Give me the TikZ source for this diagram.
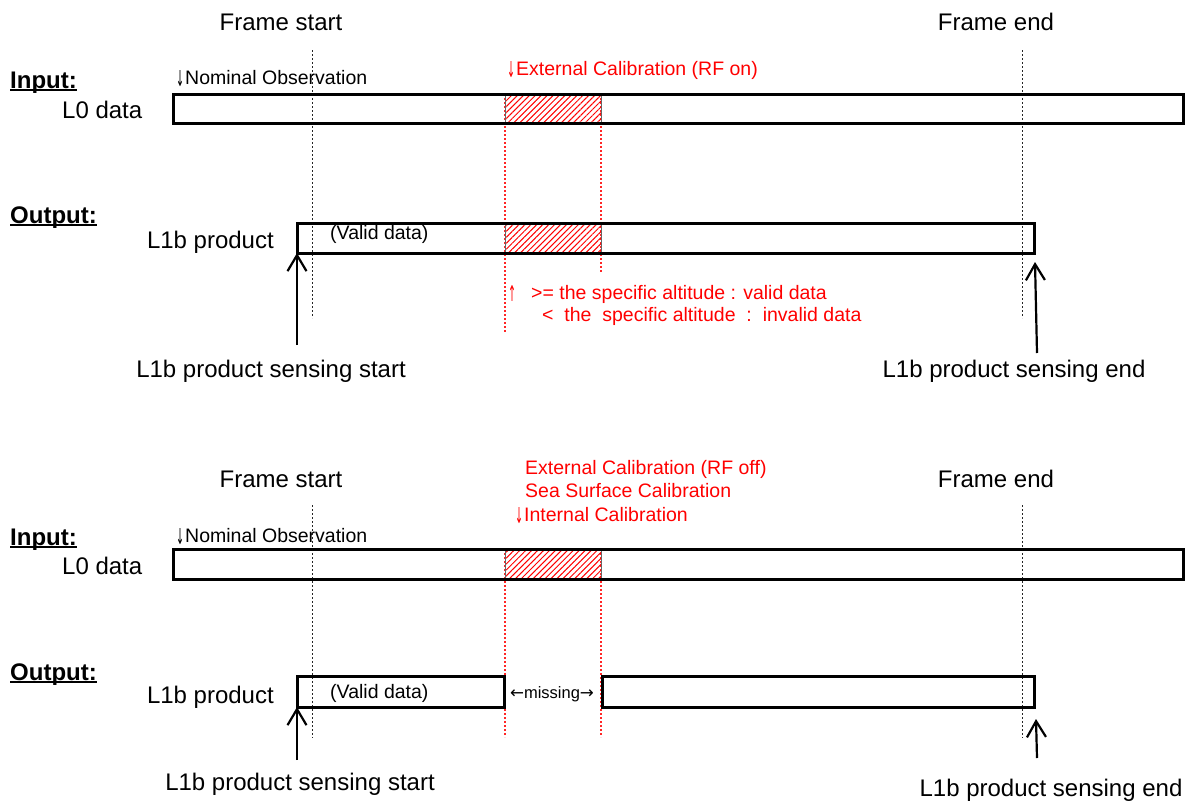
\documentclass[tikz,border=0pt]{standalone}
\usepackage{fontspec}
\setmainfont{Liberation Sans}
\newfontfamily\arrowfont{DejaVu Sans}
\usetikzlibrary{arrows.meta,patterns.meta}

% bold heading with a heavy underline
\newcommand{\ulhead}[1]{\setbox0\hbox{\bfseries #1}\rlap{\rule[-3pt]{\wd0}{2pt}}\box0}
% narrow, tall arrow glyphs
\newcommand{\dnarrow}{\raisebox{-2.5pt}{\resizebox{8pt}{16pt}{\arrowfont ↓}}\hspace{1pt}}
\newcommand{\uparr}{\raisebox{-2.5pt}{\resizebox{8pt}{16pt}{\arrowfont ↑}}}
\newcommand{\lfarr}{\resizebox{14pt}{!}{\arrowfont ←}}
\newcommand{\rtarr}{\resizebox{14pt}{!}{\arrowfont →}}

\begin{document}
\begin{tikzpicture}[x=1pt,y=-1pt,
  big/.style={inner sep=0pt,font=\fontsize{24}{28}\selectfont},
  sml/.style={inner sep=0pt,font=\fontsize{19.5}{23}\selectfont},
  tiny/.style={inner sep=0pt,font=\fontsize{16.5}{19}\selectfont},
  redtxt/.style={sml,text=red,anchor=base west},
  databox/.style={draw=black,line width=3pt,inner sep=0pt,outer sep=0pt},
  hatch/.style={pattern={Lines[angle=45,distance=4.2pt,line width=1pt]},pattern color=red},
  hatchedge/.style={line width=0.8pt,draw=black!60},
  guide/.style={line width=1pt,draw=black!85,dash pattern=on 2pt off 2pt},
  redguide/.style={line width=1.05pt,draw=red!85,dash pattern=on 2pt off 2pt},
  uparrow/.style={line width=2.2pt,-{Straight Barb[length=16pt,width=19pt,line width=2.2pt]}}
]
\useasboundingbox (0,0) rectangle (1204,803);

%================ upper case: RF on ================
% time guides
\draw[guide] (312,50) -- (312,318);
\draw[guide] (1022,50) -- (1022,318);
\draw[redguide] (505,94) -- (505,332);
\draw[redguide] (601,94) -- (601,272);

\node[big,anchor=base] (fs1) at (281,30) {Frame start};
\node[big,anchor=base] (fe1) at (996,30) {Frame end};

\node[big,anchor=base west] (in1) at (10,88) {\ulhead{Input:}};
\node[big,anchor=base west] (l0t1) at (62,118) {L0 data};
\node[sml,anchor=base west] (no1) at (176,84) {\dnarrow Nominal Observation};
\node[redtxt] (ec1) at (507,75) {\dnarrow External Calibration (RF on)};

% L0 data stream
\fill[hatch] (505,94) rectangle (601,123.5);
\draw[hatchedge] (505,94) -- (505,123.5) (601,94) -- (601,123.5);
\node[databox,minimum width=1010pt,minimum height=29.5pt] (l0a) at (678,108.75) {};

\node[big,anchor=base west] (out1) at (10,223) {\ulhead{Output:}};
\node[big,anchor=base east] (l1t1) at (274,248) {L1b product};

% L1b product stream
\fill[hatch] (505,223) rectangle (601,253);
\draw[hatchedge] (505,223) -- (505,253) (601,223) -- (601,253);
\node[databox,minimum width=737pt,minimum height=30pt] (l1a) at (665.5,238) {};
\node[sml,anchor=base west] (vd1) at (330,239) {(Valid data)};

\node[redtxt] (alt1) at (508,299) {\uparr\hspace{15pt}>= the specific altitude : valid data};
\node[redtxt] (alt2) at (542,321) {<\ \ the\ \ specific altitude\ \ :\ \ invalid data};

\coordinate (sb1) at (297,345);
\coordinate (eb1) at (1037,353);
\coordinate (et1) at (1035,262);
\draw[uparrow] (sb1) -- (l1a.south west);
\draw[uparrow] (eb1) -- (et1);
\node[big,anchor=base] (ss1) at (271,377) {L1b product sensing start};
\node[big,anchor=base] (se1) at (1014,377) {L1b product sensing end};

%================ lower case: RF off / internal ================
\draw[guide] (312,505) -- (312,738);
\draw[guide] (1022,505) -- (1022,738);
\draw[redguide] (505,549) -- (505,737);
\draw[redguide] (601,549) -- (601,737);

\node[big,anchor=base] (fs2) at (281,487) {Frame start};
\node[big,anchor=base] (fe2) at (996,487) {Frame end};

\node[redtxt] (ec2) at (525,474) {External Calibration (RF off)};
\node[redtxt] (sc2) at (525,497) {Sea Surface Calibration};
\node[redtxt] (ic2) at (515,521) {\dnarrow Internal Calibration};

\node[big,anchor=base west] (in2) at (10,545) {\ulhead{Input:}};
\node[big,anchor=base west] (l0t2) at (62,574) {L0 data};
\node[sml,anchor=base west] (no2) at (176,542) {\dnarrow Nominal Observation};

\fill[hatch] (505,549) rectangle (601,579);
\draw[hatchedge] (505,549) -- (505,579) (601,549) -- (601,579);
\node[databox,minimum width=1010pt,minimum height=30pt] (l0b) at (678,564) {};

\node[big,anchor=base west] (out2) at (10,680) {\ulhead{Output:}};
\node[big,anchor=base east] (l1t2) at (274,703) {L1b product};

\node[databox,minimum width=207pt,minimum height=31pt] (l1b) at (400.5,691.5) {};
\node[databox,minimum width=432pt,minimum height=31pt] (l1c) at (818,691.5) {};
\node[sml,anchor=base west] (vd2) at (330,698) {(Valid data)};
\node[tiny,anchor=base] (ms2) at (552,698) {\lfarr missing\rtarr};

\coordinate (sb2) at (297,760);
\coordinate (eb2) at (1037,758);
\coordinate (et2) at (1036,719);
\draw[uparrow] (sb2) -- (l1b.south west);
\draw[uparrow] (eb2) -- (et2);
\node[big,anchor=base] (ss2) at (300,790) {L1b product sensing start};
\node[big,anchor=base] (se2) at (1051,796) {L1b product sensing end};
\end{tikzpicture}
\end{document}
